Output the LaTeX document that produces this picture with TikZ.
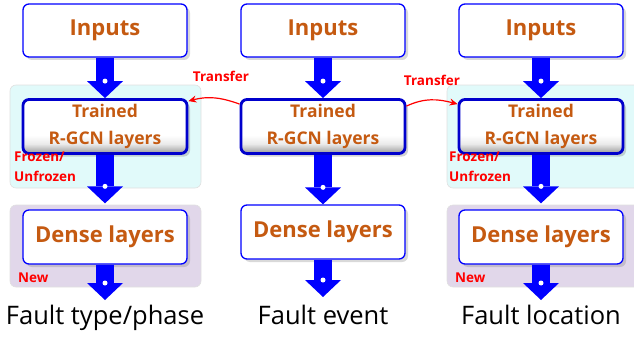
\documentclass[tikz,border=0pt]{standalone}
\usepackage{fontspec}
\setmainfont{Open Sans}
\usetikzlibrary{arrows.meta,calc,shadows}
\definecolor{boxorange}{HTML}{C55A11}
\definecolor{bgcyan}{HTML}{E1FAFA}
\definecolor{bgpurple}{HTML}{E1D7EA}
\definecolor{trainblue}{HTML}{0000CC}
\pgfdeclareverticalshading{bevel}{100bp}{color(0bp)=(black!40); color(25bp)=(black!40); color(34bp)=(black!8); color(42bp)=(white); color(100bp)=(white)}

\begin{document}
\begin{tikzpicture}[x=1pt, y=1pt,
  inbox/.style={draw=blue, line width=1.3pt, rounded corners=6pt, fill=white, minimum width=164pt, minimum height=53pt, text=boxorange, font=\fontsize{22}{26}\selectfont\bfseries, drop shadow={shadow xshift=3pt, shadow yshift=-3pt, opacity=0.3}},
  trbox/.style={draw=trainblue, line width=2.8pt, rounded corners=6pt, shading=bevel, minimum width=164pt, minimum height=54pt, align=center, text=boxorange, font=\fontsize{17.5}{26.5}\selectfont\bfseries, drop shadow={shadow xshift=3pt, shadow yshift=-3pt, opacity=0.35}},
  debox/.style={inbox, minimum height=54pt},
  bgpanel/.style={rounded corners=6pt, line width=0.6pt},
  flow/.style={blue, line width=18pt, -{Triangle[width=36pt, length=17pt, line width=0pt]}},
  dot/.style={circle, fill=white, inner sep=0pt, minimum size=5pt},
  xfer/.style={red, line width=1.2pt, -{Stealth[length=8pt, width=7pt]}},
  redtxt/.style={text=red, font=\fontsize{13.5}{20}\selectfont\bfseries, align=left, inner sep=0pt},
  outtxt/.style={font=\fontsize{25.5}{28}\selectfont, inner sep=0pt}
]
\useasboundingbox (0,0) rectangle (634,-337);

% background panels
\draw[bgpanel, draw=black!12, fill=bgcyan]   (10,-85)  rectangle (201,-188);
\draw[bgpanel, draw=black!12, fill=bgcyan]   (447,-85) rectangle (645,-188);
\draw[bgpanel, draw=black!12, fill=bgpurple] (10,-205) rectangle (201,-287);
\draw[bgpanel, draw=black!12, fill=bgpurple] (447,-205) rectangle (645,-287);

% three columns
\node[inbox] (in1) at (105,-30.5) {Inputs};
\node[inbox] (in2) at (323,-30.5) {Inputs};
\node[inbox] (in3) at (541,-30.5) {Inputs};

\node[trbox] (tr1) at (105,-126.5) {Trained\\R-GCN layers};
\node[trbox] (tr2) at (323,-126.5) {Trained\\R-GCN layers};
\node[trbox] (tr3) at (541,-126.5) {Trained\\R-GCN layers};

\node[debox] (de1) at (105,-237) {Dense layers};
\node[debox] (de2) at (323,-232) {Dense layers};
\node[debox] (de3) at (541,-237) {Dense layers};

\node[outtxt, anchor=north] (out1) at (105,-305) {Fault type/phase};
\node[outtxt, anchor=north] (out2) at (323,-305) {Fault event};
\node[outtxt, anchor=north] (out3) at (541,-305) {Fault location};

% block arrows down each column
\draw[flow] (in1) -- (tr1); \node[dot] at ([yshift=17pt]tr1.north) {};
\draw[flow] (in2) -- (tr2); \node[dot] at ([yshift=17pt]tr2.north) {};
\draw[flow] (in3) -- (tr3); \node[dot] at ([yshift=17pt]tr3.north) {};

\draw[flow, shorten >=6pt] (tr1) -- (de1); \node[dot] at ([yshift=23pt]de1.north) {};
\draw[flow] (tr2) -- (de2); \node[dot] at ([yshift=17pt]de2.north) {};
\draw[flow, shorten >=6pt] (tr3) -- (de3); \node[dot] at ([yshift=23pt]de3.north) {};

\draw[flow] (de1) -- ([yshift=5pt]out1.north); \node[dot] at ([yshift=22pt]out1.north) {};
\draw[flow] (de2) -- ([yshift=8pt]out2.north); \node[dot] at ([yshift=25pt]out2.north) {};
\draw[flow] (de3) -- ([yshift=5pt]out3.north); \node[dot] at ([yshift=22pt]out3.north) {};

% transfer of the trained layers
\draw[xfer] ([yshift=-6pt]tr2.north west) to[out=160, in=15] ([yshift=-3pt]tr1.north east);
\draw[xfer] ([yshift=-8pt]tr2.north east) to[out=25, in=165] ([yshift=-6pt]tr3.north west);
\node[redtxt] (tl1) at (221,-76) {Transfer};
\node[redtxt] (tl2) at (432,-80) {Transfer};

% panel notes
\node[redtxt, anchor=north west] (fz1) at (14,-152) {Frozen/\\Unfrozen};
\node[redtxt, anchor=north west] (fz3) at (449,-152) {Frozen/\\Unfrozen};
\node[redtxt, anchor=west] (nw1) at (18,-278) {New};
\node[redtxt, anchor=west] (nw3) at (455,-278) {New};
\end{tikzpicture}
\end{document}
